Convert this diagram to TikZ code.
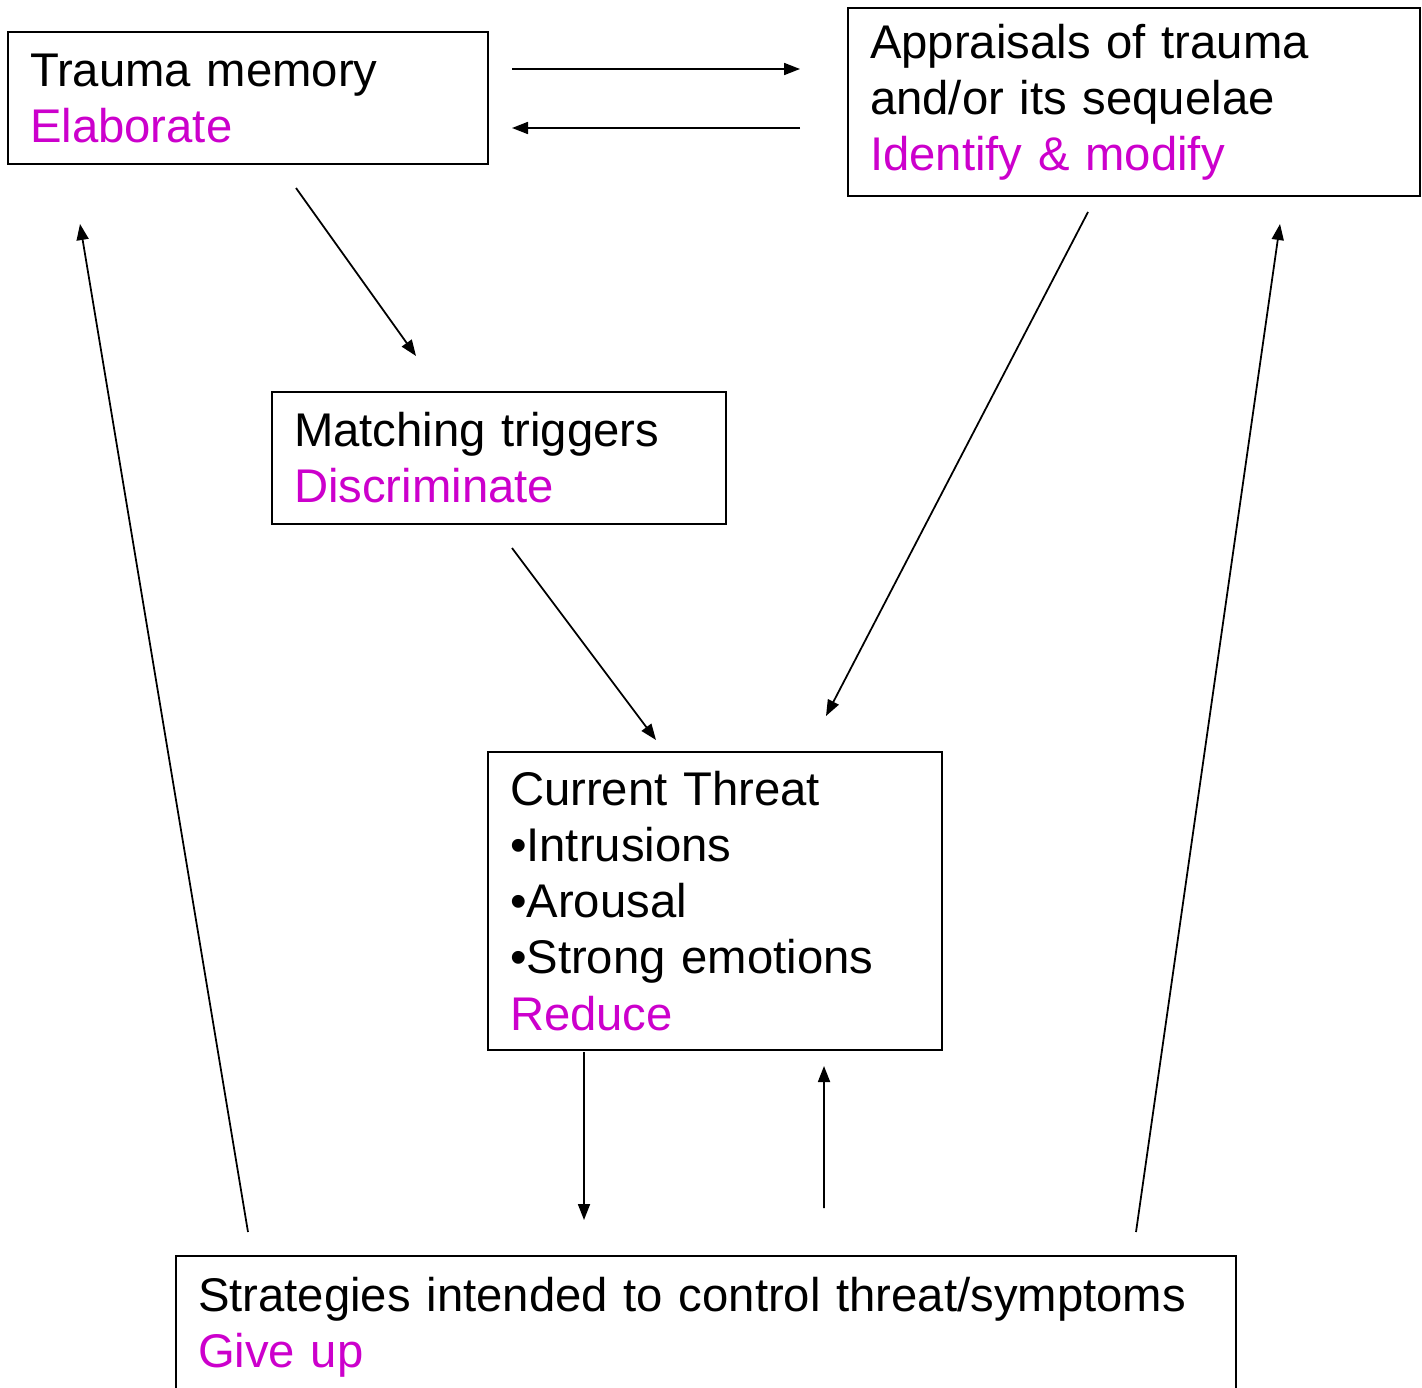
\documentclass[tikz,border=0pt]{standalone}
\usepackage{fontspec}
\setmainfont{Liberation Sans}
\usetikzlibrary{positioning, arrows.meta}
\definecolor{action}{RGB}{204,0,204}
\tikzstyle{box} = [rectangle, draw, line width=1.1pt, align=left, inner xsep=0.44cm, inner ysep=0pt, outer sep=0pt, anchor=north west, font=\fontsize{26.9pt}{31.9pt}\selectfont]
\tikzstyle{arrow} = [line width=1pt, -{Triangle[length=0.32cm,width=0.24cm]}]

\begin{document}
\begin{tikzpicture}

  \useasboundingbox (0,0) rectangle (28.44,-27.74);
  \clip (0,0) rectangle (28.44,-27.74);

  % Top row
  \node (trauma) [box, minimum width=9.6cm, minimum height=2.64cm, text width=8.72cm] at (0.16,-0.64)
    {Trauma memory\\\textcolor{action}{Elaborate}};
  \node (appraisal) [box, minimum width=11.44cm, minimum height=3.76cm, text width=10.56cm,
    right=7.2cm of trauma.north east, anchor=north west, yshift=0.48cm]
    {Appraisals of trauma\\and/or its sequelae\\\textcolor{action}{Identify \& modify}};

  % Middle
  \node (matching) [box, minimum width=9.08cm, minimum height=2.64cm, text width=8.2cm,
    below right=4.56cm and 5.28cm of trauma.south west]
    {Matching triggers\\\textcolor{action}{Discriminate}};
  \node (threat) [box, minimum width=9.08cm, minimum height=5.96cm, text width=8.2cm,
    below right=4.56cm and 4.32cm of matching.south west]
    {Current Threat\\•Intrusions\\•Arousal\\•Strong emotions\\\textcolor{action}{Reduce}};

  % Bottom (runs off the page)
  \node (strategies) [box, minimum width=21.2cm, minimum height=2.84cm, text width=20.32cm] at (3.52,-25.12)
    {Strategies intended to control threat/symptoms\\\textcolor{action}{Give up}};

  % Arrows
  \draw[arrow] ([xshift=0.48cm,yshift=0.58cm]trauma.east) -- ([xshift=-0.96cm,yshift=0.66cm]appraisal.west);
  \draw[arrow] ([xshift=-0.96cm,yshift=-0.52cm]appraisal.west) -- ([xshift=0.48cm,yshift=-0.6cm]trauma.east);
  \draw[arrow] ([xshift=0.96cm,yshift=-0.48cm]trauma.south) -- ([xshift=-1.66cm,yshift=0.72cm]matching.north);
  \draw[arrow] ([xshift=-0.92cm,yshift=-0.32cm]appraisal.south) -- ([xshift=2.22cm,yshift=0.72cm]threat.north);
  \draw[arrow] ([xshift=0.26cm,yshift=-0.48cm]matching.south) -- ([xshift=-1.18cm,yshift=0.24cm]threat.north);
  \draw[arrow] ([xshift=-2.62cm,yshift=-0.04cm]threat.south) -- ([xshift=-2.44cm,yshift=0.72cm]strategies.north);
  \draw[arrow] ([xshift=2.36cm,yshift=0.96cm]strategies.north) -- ([xshift=2.18cm,yshift=-0.32cm]threat.south);

  % Feedback from strategies
  \draw[arrow] ([xshift=1.44cm,yshift=0.48cm]strategies.north west) -- ([xshift=1.44cm,yshift=-1.2cm]trauma.south west);
  \draw[arrow] ([xshift=-2cm,yshift=0.48cm]strategies.north east) -- ([xshift=-2.8cm,yshift=-0.56cm]appraisal.south east);

\end{tikzpicture}
\end{document}
